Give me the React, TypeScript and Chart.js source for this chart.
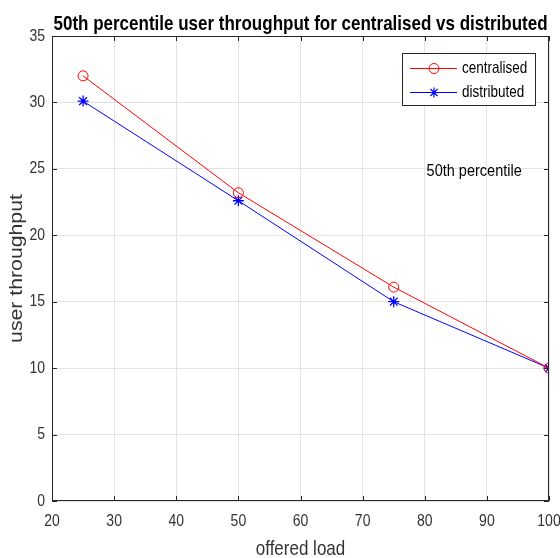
import React, { useEffect, useRef } from "react";
import { Chart, registerables } from "chart.js";

Chart.register(...registerables);

const offeredLoad = [25, 50, 75, 100];
const centralised = [32, 23.2, 16.1, 10];
const distributed = [30.1, 22.6, 15, 10];
const xTickValues = [20, 30, 40, 50, 60, 70, 80, 90, 100];
const yTickValues = [0, 5, 10, 15, 20, 25, 30, 35];
const titleText = "50th percentile user throughput for centralised vs distributed";
const xTitle = "offered load";
const yTitle = "user throughput";
const seriesNames = ["centralised", "distributed"];
const annotationText = "50th percentile";
const annotationPos = { x: 80.3, y: 24.85 };

const FONT = '"Liberation Sans", Arial, Helvetica, sans-serif';
const AXIS_COLOR = "#262626";
const RED = "#ff0000";
const BLUE = "#0000ff";
const SY = 1.18;

function drawText(
  ctx: CanvasRenderingContext2D,
  text: string,
  x: number,
  y: number,
  font: string,
  color: string,
  align: CanvasTextAlign,
  baseline: CanvasTextBaseline,
  rotate = 0
) {
  ctx.save();
  ctx.translate(x, y);
  if (rotate) ctx.rotate(rotate);
  if (rotate) ctx.scale(SY, 1);
  else ctx.scale(1, SY);
  ctx.font = font;
  ctx.fillStyle = color;
  ctx.textAlign = align;
  ctx.textBaseline = baseline;
  ctx.fillText(text, 0, 0);
  ctx.restore();
}

function drawCircle(ctx: CanvasRenderingContext2D, x: number, y: number, color: string) {
  ctx.save();
  ctx.strokeStyle = color;
  ctx.lineWidth = 1;
  ctx.beginPath();
  ctx.arc(x, y, 5, 0, Math.PI * 2);
  ctx.stroke();
  ctx.restore();
}

function drawStar(ctx: CanvasRenderingContext2D, x: number, y: number, color: string) {
  const r = 5;
  const d = r * Math.SQRT1_2;
  ctx.save();
  ctx.strokeStyle = color;
  ctx.lineWidth = 1.2;
  ctx.beginPath();
  ctx.moveTo(x - r, y);
  ctx.lineTo(x + r, y);
  ctx.moveTo(x, y - r);
  ctx.lineTo(x, y + r);
  ctx.moveTo(x - d, y - d);
  ctx.lineTo(x + d, y + d);
  ctx.moveTo(x - d, y + d);
  ctx.lineTo(x + d, y - d);
  ctx.stroke();
  ctx.restore();
}

const decorPlugin = {
  id: "decor",
  afterDraw(chart: any) {
    const ctx: CanvasRenderingContext2D = chart.ctx;
    const xs = chart.scales.x;
    const ys = chart.scales.y;
    const { left, right, top, bottom } = chart.chartArea;

    // box + inward ticks
    ctx.save();
    ctx.strokeStyle = AXIS_COLOR;
    ctx.lineWidth = 1;
    ctx.beginPath();
    ctx.moveTo(left + 0.5, top + 0.5);
    ctx.lineTo(right - 0.5, top + 0.5);
    ctx.lineTo(right - 0.5, bottom - 0.5);
    ctx.lineTo(left + 0.5, bottom - 0.5);
    ctx.closePath();
    ctx.stroke();
    ctx.beginPath();
    xTickValues.forEach((v) => {
      const px = Math.round(xs.getPixelForValue(v)) + 0.5;
      ctx.moveTo(px, bottom);
      ctx.lineTo(px, bottom - 5);
      ctx.moveTo(px, top);
      ctx.lineTo(px, top + 5);
    });
    yTickValues.forEach((v) => {
      const py = Math.round(ys.getPixelForValue(v)) + 0.5;
      ctx.moveTo(left, py);
      ctx.lineTo(left + 5, py);
      ctx.moveTo(right, py);
      ctx.lineTo(right - 5, py);
    });
    ctx.stroke();
    ctx.restore();

    // tick labels
    xTickValues.forEach((v) => {
      drawText(ctx, String(v), xs.getPixelForValue(v), 526, `14px ${FONT}`, "#333", "center", "alphabetic");
    });
    yTickValues.forEach((v) => {
      drawText(ctx, String(v), left - 7, ys.getPixelForValue(v), `14px ${FONT}`, "#333", "right", "middle");
    });

    // titles
    drawText(ctx, titleText, (left + right) / 2, 30, `bold 17px ${FONT}`, "#000", "center", "alphabetic");
    drawText(ctx, xTitle, (left + right) / 2, 555, `17px ${FONT}`, "#333", "center", "alphabetic");
    drawText(ctx, yTitle, 22, (top + bottom) / 2, `18px ${FONT}`, "#333", "center", "alphabetic", -Math.PI / 2);

    // annotation
    drawText(
      ctx,
      annotationText,
      xs.getPixelForValue(annotationPos.x),
      ys.getPixelForValue(annotationPos.y),
      `14.5px ${FONT}`,
      "#000",
      "left",
      "middle"
    );

    // legend
    const lx = 402, ly = 53, lw = 133, lh = 52;
    ctx.save();
    ctx.fillStyle = "#fff";
    ctx.fillRect(lx, ly, lw, lh);
    ctx.strokeStyle = AXIS_COLOR;
    ctx.lineWidth = 1;
    ctx.strokeRect(lx + 0.5, ly + 0.5, lw, lh);
    ctx.restore();
    const rows = [
      { y: 68, color: RED, marker: "circle" },
      { y: 92, color: BLUE, marker: "star" },
    ];
    rows.forEach((r, i) => {
      ctx.save();
      ctx.strokeStyle = r.color;
      ctx.lineWidth = 1;
      ctx.beginPath();
      ctx.moveTo(410, r.y + 0.5);
      ctx.lineTo(457, r.y + 0.5);
      ctx.stroke();
      ctx.restore();
      if (r.marker === "circle") drawCircle(ctx, 434, r.y + 0.5, r.color);
      else drawStar(ctx, 434, r.y + 0.5, r.color);
      drawText(ctx, seriesNames[i], 462, r.y + 1, `13.5px ${FONT}`, "#000", "left", "middle");
    });
  },
};

export default function App() {
  const ref = useRef<HTMLCanvasElement | null>(null);
  useEffect(() => {
    if (!ref.current) return;
    const chart = new Chart(ref.current, {
      type: "line",
      data: {
        datasets: [
          {
            label: seriesNames[0],
            data: offeredLoad.map((x, i) => ({ x, y: centralised[i] })),
            borderColor: RED,
            borderWidth: 1,
            pointStyle: "circle",
            pointRadius: 5,
            pointBorderWidth: 1,
            pointBorderColor: RED,
            pointBackgroundColor: "rgba(0,0,0,0)",
            fill: false,
            tension: 0,
          },
          {
            label: seriesNames[1],
            data: offeredLoad.map((x, i) => ({ x, y: distributed[i] })),
            borderColor: BLUE,
            borderWidth: 1,
            pointStyle: "star",
            pointRadius: 5.5,
            pointBorderWidth: 1.3,
            pointBorderColor: BLUE,
            pointBackgroundColor: BLUE,
            fill: false,
            tension: 0,
          },
        ],
      },
      options: {
        animation: false,
        responsive: true,
        maintainAspectRatio: false,
        layout: { padding: { top: 36, right: 11, left: 0, bottom: 0 } },
        plugins: {
          legend: { display: false },
          title: { display: false },
          tooltip: { enabled: false },
        },
        scales: {
          x: {
            type: "linear",
            min: 20,
            max: 100,
            ticks: { stepSize: 10, display: false },
            grid: { color: "#e3e3e3", drawTicks: false },
            border: { display: false },
            afterFit: (s: any) => {
              s.height = 57;
            },
          },
          y: {
            type: "linear",
            min: 0,
            max: 35,
            ticks: { stepSize: 5, display: false },
            grid: { color: "#e3e3e3", drawTicks: false },
            border: { display: false },
            afterFit: (s: any) => {
              s.width = 52;
            },
          },
        },
      },
      plugins: [decorPlugin],
    });
    return () => chart.destroy();
  }, []);
  return (
    <div style={{ position: "absolute", left: 0, top: 0, width: 560, height: 558, background: "#fff" }}>
      <canvas ref={ref} />
    </div>
  );
}
